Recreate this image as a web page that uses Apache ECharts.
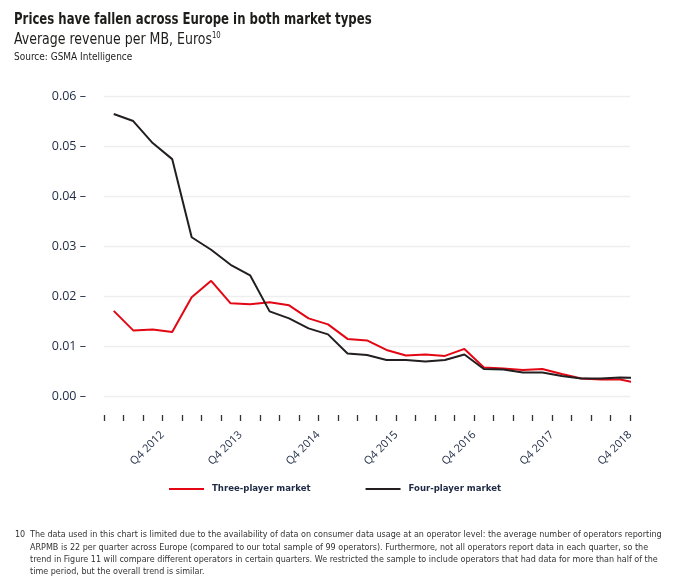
<!DOCTYPE html>
<html><head><meta charset="utf-8">
<script src="https://cdn.jsdelivr.net/npm/echarts@6/dist/echarts.min.js"></script>
<style>html,body{margin:0;padding:0;background:#fff;}#c{width:677px;height:587px;}</style>
</head><body><div id="c"></div>
<script>
const quarters = ['Q1 2012','Q2 2012','Q3 2012','Q4 2012','Q1 2013','Q2 2013','Q3 2013','Q4 2013',
  'Q1 2014','Q2 2014','Q3 2014','Q4 2014','Q1 2015','Q2 2015','Q3 2015','Q4 2015',
  'Q1 2016','Q2 2016','Q3 2016','Q4 2016','Q1 2017','Q2 2017','Q3 2017','Q4 2017',
  'Q1 2018','Q2 2018','Q3 2018','Q4 2018'];
const labelQuarters = ['Q4 2012','Q4 2013','Q4 2014','Q4 2015','Q4 2016','Q4 2017','Q4 2018'];
const threePlayer = [0.0171,0.0132,0.0134,0.0129,0.0198,0.0231,0.0186,0.0184,0.0188,0.0182,0.0156,0.0144,0.0115,0.0112,
  0.0093,0.0082,0.0084,0.0081,0.0095,0.0058,0.0056,0.0053,0.0055,0.0045,0.0036,0.0034,0.0034,0.0026];
const fourPlayer = [0.0564,0.0550,0.0506,0.0474,0.0318,0.0293,0.0263,0.0242,0.0170,0.0156,0.0136,0.0124,0.0086,0.0083,
  0.0073,0.0073,0.0070,0.0073,0.0084,0.0055,0.0054,0.0048,0.0048,0.0041,0.0036,0.0036,0.0038,0.0037];
const seriesNames = ['Three-player market','Four-player market'];
const footnote = [
  'The data used in this chart is limited due to the availability of data on consumer data usage at an operator level: the average number of operators reporting',
  'ARPMB is 22 per quarter across Europe (compared to our total sample of 99 operators). Furthermore, not all operators report data in each quarter, so the',
  'trend in Figure 11 will compare different operators in certain quarters. We restricted the sample to include operators that had data for more than half of the',
  'time period, but the overall trend is similar.'
];

const NARROW = "'Liberation Sans Narrow', 'DejaVu Sans Condensed', 'Roboto', sans-serif";
const NAVY = '#1e2a44';
const chart = echarts.init(document.getElementById('c'), null, {renderer: 'canvas'});

const graphics = [
  {type:'text', x:14, y:11, scaleX:0.79, style:{text:'Prices have fallen across Europe in both market types', fontFamily:NARROW, fontWeight:'bold', fontSize:16.5, fill:'#1d1d1b', textVerticalAlign:'top'}},
  {type:'text', x:14, y:31, scaleX:0.9, style:{text:'{a|Average revenue per MB, Euros}{s|10}', textVerticalAlign:'top', rich:{
      a:{fontFamily:NARROW, fontSize:15.5, fill:'#1d1d1b'},
      s:{fontFamily:NARROW, fontSize:8.5, fill:'#1d1d1b', padding:[0,0,8,0]}}}},
  {type:'text', x:14, y:52, scaleX:0.95, style:{text:'Source: GSMA Intelligence', fontFamily:NARROW, fontSize:10.5, fill:'#1d1d1b', textVerticalAlign:'top'}},
  {type:'text', x:15, y:530, scaleX:0.94, style:{text:'10', fontFamily:NARROW, fontSize:9.5, fill:'#333', textVerticalAlign:'top'}}
];
footnote.forEach((t, i) => {
  graphics.push({type:'text', x:30, y:530 + i*12.1, scaleX:0.94, style:{text:t, fontFamily:NARROW, fontSize:9.5, fill:'#333', textVerticalAlign:'top'}});
});

chart.setOption({
  animation:false,
  grid:{left:104, right:47, top:96, height:300.5, containLabel:false},
  graphic: graphics,
  legend:{
    data: seriesNames, left:164, top:479, icon:'rect', itemWidth:35, itemHeight:2, itemGap:55,
    textStyle:{fontFamily:NARROW, fontWeight:'bold', fontSize:9.5, color:NAVY, padding:[0,0,0,3]}
  },
  xAxis:[
    {type:'category', data:quarters, boundaryGap:true, min:0, max:26, show:false, position:'top'},
    {type:'category', data:quarters, boundaryGap:false, position:'bottom', offset:18.5,
     axisLine:{show:false},
     axisTick:{show:true, interval:0, length:6, inside:false, lineStyle:{color:'#333', width:1.3}},
     axisLabel:{interval:(i, v) => labelQuarters.includes(v), rotate:45, margin:18,
       fontFamily:'Open Sans', fontSize:11, color:NAVY},
     splitLine:{show:false}}
  ],
  yAxis:{type:'value', min:0, max:0.06, interval:0.01,
    axisLine:{show:false}, axisTick:{show:false},
    splitLine:{lineStyle:{color:'#eeeeee', width:1.3}},
    axisLabel:{formatter: v => v.toFixed(2) + ' \u2013', margin:18, fontFamily:'Open Sans', fontSize:12.5, color:NAVY}
  },
  series:[
    {name:seriesNames[0], type:'line', xAxisIndex:0, data:threePlayer, symbol:'none', clip:true,
     lineStyle:{color:'#e30613', width:2}, itemStyle:{color:'#e30613'}},
    {name:seriesNames[1], type:'line', xAxisIndex:0, data:fourPlayer, symbol:'none', clip:true,
     lineStyle:{color:'#231f20', width:2}, itemStyle:{color:'#231f20'}}
  ]
});
</script></body></html>
